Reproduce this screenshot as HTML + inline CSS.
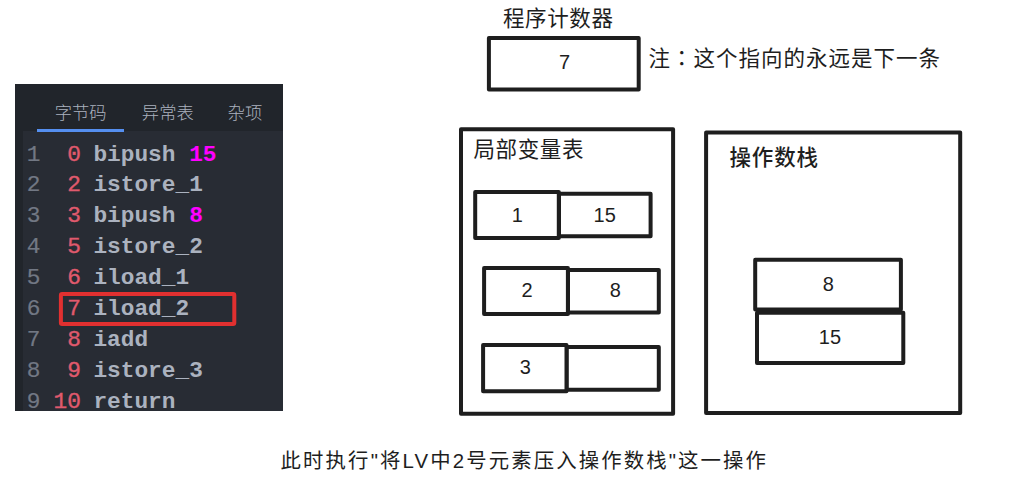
<!DOCTYPE html>
<html lang="zh-CN">
<head>
<meta charset="utf-8">
<title>字节码执行过程</title>
<style>
html,body{margin:0;padding:0;background:#fff;}
body{width:1025px;height:493px;position:relative;overflow:hidden;font-family:"Liberation Sans","Noto Sans CJK SC",sans-serif;}
#panel{position:absolute;left:15px;top:84px;width:268px;height:327px;background:#21252b;overflow:hidden;}
#code{position:absolute;left:8px;top:47px;right:0;bottom:0;background:#282c34;}
.tab{position:absolute;top:15.6px;height:26px;line-height:26px;font-size:17.3px;font-weight:300;color:#abb2bf;white-space:nowrap;width:80px;text-align:center;}
#uline{position:absolute;left:22px;top:45px;width:87px;height:3px;background:#558ff0;}
.row{position:absolute;left:0;right:0;height:30px;line-height:30px;font-family:"Liberation Mono",monospace;font-size:22.8px;white-space:pre;color:#abb2bf;}
.row span{position:absolute;top:0;}
.ln{color:#727884;-webkit-text-stroke:0.2px #727884;left:3.7px;}
.off{color:#e05a6d;-webkit-text-stroke:0.35px #e05a6d;right:202.1px;text-align:right;}
.tx{left:70.4px;font-weight:bold;}
.row .num{color:#ff00ff;position:static;}
svg{position:absolute;left:0;top:0;}
svg rect{fill:#fff;stroke:#1e1e1e;stroke-width:4;stroke-linejoin:round;}
svg rect.hl{fill:none;stroke:#e13030;stroke-width:4;}
svg text{fill:#1e1e1e;font-family:"Liberation Sans","Noto Sans CJK SC",sans-serif;}
.cj{font-size:21.5px;}
.dg{font-size:20px;text-anchor:middle;}
</style>
</head>
<body>
<div id="panel">
  <div class="tab" style="left:25.7px">字节码</div>
  <div class="tab" style="left:112.8px">异常表</div>
  <div class="tab" style="left:189.9px">杂项</div>
  <div id="code">
    <div class="row" style="top:8.5px"><span class="ln">1</span><span class="off">0</span><span class="tx">bipush <span class="num">15</span></span></div>
    <div class="row" style="top:39.4px"><span class="ln">2</span><span class="off">2</span><span class="tx">istore_1</span></div>
    <div class="row" style="top:70.3px"><span class="ln">3</span><span class="off">3</span><span class="tx">bipush <span class="num">8</span></span></div>
    <div class="row" style="top:101.2px"><span class="ln">4</span><span class="off">5</span><span class="tx">istore_2</span></div>
    <div class="row" style="top:132.1px"><span class="ln">5</span><span class="off">6</span><span class="tx">iload_1</span></div>
    <div class="row" style="top:163.0px"><span class="ln">6</span><span class="off">7</span><span class="tx">iload_2</span></div>
    <div class="row" style="top:193.9px"><span class="ln">7</span><span class="off">8</span><span class="tx">iadd</span></div>
    <div class="row" style="top:224.8px"><span class="ln">8</span><span class="off">9</span><span class="tx">istore_3</span></div>
    <div class="row" style="top:255.7px"><span class="ln">9</span><span class="off">10</span><span class="tx">return</span></div>
  </div>
  <div id="uline"></div>
</div>
<svg width="1025" height="493" viewBox="0 0 1025 493">
  <rect class="hl" x="60.9" y="294" width="173.4" height="30" rx="1.2"/>
  <text class="cj" x="503" y="26" textLength="110" lengthAdjust="spacing">程序计数器</text>
  <rect x="488.9" y="37.9" width="149.8" height="51.6"/>
  <text class="dg" x="564.5" y="69">7</text>
  <text class="cj" x="648.5" y="66" textLength="291.5" lengthAdjust="spacing">注<tspan lang="zh-TW" style="font-family:'Liberation Sans','Noto Sans CJK TC',sans-serif">：</tspan>这个指向的永远是下一条</text>

  <rect x="461.0" y="129.2" width="212.1" height="284.6"/>
  <text class="cj" x="473.5" y="156.7" textLength="110" lengthAdjust="spacing">局部变量表</text>
  <rect x="559.0" y="193.8" width="91.6" height="42.4"/>
  <rect x="475.2" y="192.0" width="83.6" height="46.0"/>
  <text class="dg" x="517.3" y="221.5">1</text>
  <text class="dg" x="604.7" y="221.5">15</text>
  <rect x="568.0" y="270.1" width="90.8" height="42.4"/>
  <rect x="484.1" y="268.1" width="83.8" height="45.8"/>
  <text class="dg" x="527" y="297.3">2</text>
  <text class="dg" x="615.4" y="297.3">8</text>
  <rect x="566.6" y="347.0" width="92.2" height="42.8"/>
  <rect x="483.1" y="345.1" width="83.4" height="46.1"/>
  <text class="dg" x="525.4" y="373.8">3</text>

  <rect x="706.1" y="132.6" width="254.1" height="280.4"/>
  <text class="cj" x="729.5" y="165" textLength="88.5" lengthAdjust="spacing" style="font-weight:500">操作数栈</text>
  <rect x="757.0" y="312.8" width="146.3" height="50.1"/>
  <rect x="755.2" y="259.7" width="145.7" height="49.8"/>
  <text class="dg" x="828.3" y="291.2">8</text>
  <text class="dg" x="829.9" y="343.8">15</text>

  <text class="cj" x="280.6" y="468" textLength="485.4" lengthAdjust="spacing" style="font-size:20.4px">此时执行"将LV中2号元素压入操作数栈"这一操作</text>
</svg>
</body>
</html>
